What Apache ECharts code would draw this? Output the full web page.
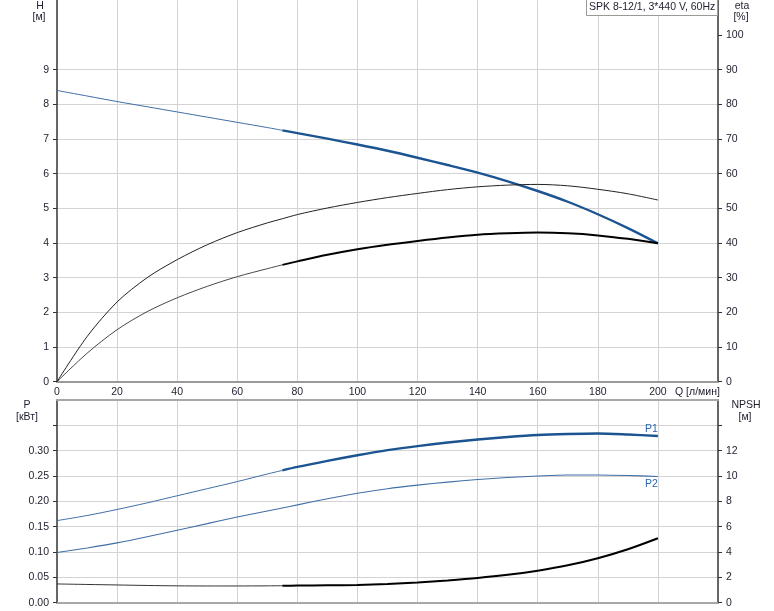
<!DOCTYPE html>
<html>
<head>
<meta charset="utf-8">
<script src="https://cdn.jsdelivr.net/npm/echarts@6/dist/echarts.min.js"></script>
<style>
html,body{margin:0;padding:0;background:#fff;}
#chart{width:774px;height:611px;}
</style>
</head>
<body>
<div id="chart"></div>
<script>
// ---- data ----
const Q = [0,10,20,30,40,50,60,70,75,80,90,100,110,120,130,140,150,160,170,180,190,200];
const H = [8.40,8.24,8.08,7.93,7.78,7.63,7.48,7.33,7.25,7.17,7.01,6.84,6.66,6.46,6.25,6.03,5.78,5.50,5.19,4.83,4.43,3.99];
const ETA_UPPER = [0,13.0,23.0,30.0,35.2,39.5,43.0,45.8,47.0,48.2,50.1,51.7,53.1,54.3,55.4,56.2,56.7,56.9,56.5,55.5,54.2,52.4];
const ETA_LOWER = [0,8.2,15.0,20.2,24.2,27.5,30.3,32.6,33.7,34.7,36.6,38.2,39.5,40.6,41.6,42.4,42.8,43.0,42.8,42.2,41.2,39.9];
const P1 = [0.162,0.172,0.184,0.197,0.211,0.225,0.239,0.254,0.261,0.268,0.280,0.291,0.301,0.309,0.316,0.322,0.327,0.331,0.333,0.334,0.332,0.329];
const P2 = [0.099,0.108,0.118,0.130,0.143,0.156,0.169,0.181,0.187,0.193,0.205,0.216,0.225,0.232,0.238,0.243,0.247,0.250,0.252,0.252,0.251,0.249];
const NPSH = [1.48,1.44,1.40,1.36,1.33,1.32,1.32,1.33,1.34,1.35,1.37,1.40,1.48,1.60,1.76,1.95,2.20,2.53,2.95,3.51,4.22,5.09];
const DUTY_START = 75;

const Q_TICKS = [0,20,40,60,80,100,120,140,160,180,200];
const H_TICKS = [0,1,2,3,4,5,6,7,8,9];
const ETA_TICKS = [0,10,20,30,40,50,60,70,80,90,100];
const P_LABELS = [0,0.05,0.10,0.15,0.20,0.25,0.30];
const P_TICKS = [0,0.05,0.10,0.15,0.20,0.25,0.30,0.35];
const NPSH_LABELS = [0,2,4,6,8,10,12];
const NPSH_TICKS = [0,2,4,6,8,10,12,14];

const TITLE = 'SPK 8-12/1, 3*440 V, 60Hz';

// ---- helpers ----
function seg(vals, from, to){
  const out = [];
  for (let i=0;i<Q.length;i++){ if (Q[i]>=from && Q[i]<=to) out.push([Q[i], vals[i]]); }
  return out;
}
const FONT = '"Liberation Sans", Arial, sans-serif';
const FS = 10.5;
const TXT = '#1e1e2e';
const BLUE = '#1b5491';
const BLUE_THIN = '#3f6fa6';
const GRIDC = '#d3d3d3';

function line(name, data, xi, yi, color, width, extra){
  return Object.assign({
    name, type:'line', data, xAxisIndex:xi, yAxisIndex:yi,
    showSymbol:false, symbol:'none', smooth:0.3, silent:true, animation:false,
    lineStyle:{color, width}, z:3
  }, extra||{});
}

const chart = echarts.init(document.getElementById('chart'), null, {renderer:'canvas'});
const labelStyle = {color:TXT, fontFamily:FONT, fontSize:FS};

chart.setOption({
  animation:false,
  backgroundColor:'#fff',
  grid:[
    {left:57, right:56, top:0.3, height:381.4, show:false},
    {left:57, right:56, top:400, height:202.7, show:false}
  ],
  xAxis:[
    {gridIndex:0, type:'value', min:0, max:220, interval:20,
     axisLine:{show:true, onZero:false, lineStyle:{color:'#9a9a9a', width:2}},
     axisTick:{show:false},
     axisLabel:Object.assign({margin:5, customValues:Q_TICKS, formatter:v=>String(v)}, labelStyle),
     splitLine:{show:true, lineStyle:{color:GRIDC, width:1}}},
    {gridIndex:1, type:'value', min:0, max:220, interval:20, position:'bottom',
     axisLine:{show:true, onZero:false, lineStyle:{color:'#a8a8a8', width:2}},
     axisTick:{show:false}, axisLabel:{show:false},
     splitLine:{show:true, lineStyle:{color:GRIDC, width:1}}},
    {gridIndex:1, type:'value', min:0, max:220, interval:20, position:'top',
     axisLine:{show:true, onZero:false, lineStyle:{color:'#a8a8a8', width:2}},
     axisTick:{show:false}, axisLabel:{show:false}, splitLine:{show:false}}
  ],
  yAxis:[
    {gridIndex:0, type:'value', min:0, max:11, interval:1, position:'left',
     axisLine:{show:true, onZero:false, lineStyle:{color:'#666', width:2}},
     axisTick:{show:true, length:4, inside:false, customValues:H_TICKS, lineStyle:{color:'#333'}},
     axisLabel:Object.assign({margin:8, customValues:H_TICKS}, labelStyle),
     splitLine:{show:true, lineStyle:{color:GRIDC, width:1}}},
    {gridIndex:0, type:'value', min:0, max:110, interval:10, position:'right',
     axisLine:{show:true, onZero:false, lineStyle:{color:'#666', width:2}},
     axisTick:{show:true, length:4, customValues:ETA_TICKS, lineStyle:{color:'#333'}},
     axisLabel:Object.assign({margin:8, customValues:ETA_TICKS}, labelStyle),
     splitLine:{show:false}},
    {gridIndex:1, type:'value', min:0, max:0.40, interval:0.05, position:'left',
     axisLine:{show:true, onZero:false, lineStyle:{color:'#666', width:2}},
     axisTick:{show:true, length:4, customValues:P_TICKS, lineStyle:{color:'#333'}},
     axisLabel:Object.assign({margin:8, customValues:P_LABELS, formatter:v=>v.toFixed(2)}, labelStyle),
     splitLine:{show:true, lineStyle:{color:GRIDC, width:1}}},
    {gridIndex:1, type:'value', min:0, max:16, interval:2, position:'right',
     axisLine:{show:true, onZero:false, lineStyle:{color:'#666', width:2}},
     axisTick:{show:true, length:4, customValues:NPSH_TICKS, lineStyle:{color:'#333'}},
     axisLabel:Object.assign({margin:8, customValues:NPSH_LABELS}, labelStyle),
     splitLine:{show:false}}
  ],
  series:[
    line('H thin', seg(H,0,DUTY_START), 0, 0, BLUE_THIN, 1),
    line('H', seg(H,DUTY_START,200), 0, 0, BLUE, 2.4),
    line('eta upper', seg(ETA_UPPER,0,200), 0, 1, '#222', 1),
    line('eta lower thin', seg(ETA_LOWER,0,DUTY_START), 0, 1, '#333', 0.9),
    line('eta lower', seg(ETA_LOWER,DUTY_START,200), 0, 1, '#000', 2),
    line('P1 thin', seg(P1,0,DUTY_START), 1, 2, BLUE_THIN, 1),
    line('P1', seg(P1,DUTY_START,200), 1, 2, BLUE, 2.4, {
      endLabel:{show:true, formatter:'P1', color:'#2a66b0', fontFamily:FONT, fontSize:FS, offset:[-21,-7]}
    }),
    line('P2', seg(P2,0,200), 1, 2, BLUE_THIN, 1.1, {
      endLabel:{show:true, formatter:'P2', color:'#2a66b0', fontFamily:FONT, fontSize:FS, offset:[-21,8]}
    }),
    line('NPSH thin', seg(NPSH,0,DUTY_START), 1, 3, '#333', 1),
    line('NPSH', seg(NPSH,DUTY_START,200), 1, 3, '#000', 2)
  ],
  graphic:[
    {type:'rect', left:586, top:-1, shape:{width:131, height:16}, style:{fill:'#fff', stroke:'#999', lineWidth:1}, z:10},
    {type:'text', left:589, top:2, style:{text:TITLE, fill:TXT, font:FS+'px '+FONT}, z:11},
    {type:'text', x:40, y:6, style:{text:'H', fill:TXT, font:FS+'px '+FONT, align:'center', verticalAlign:'middle'}},
    {type:'text', x:39, y:17, style:{text:'[м]', fill:TXT, font:FS+'px '+FONT, align:'center', verticalAlign:'middle'}},
    {type:'text', x:742, y:6, style:{text:'eta', fill:TXT, font:FS+'px '+FONT, align:'center', verticalAlign:'middle'}},
    {type:'text', x:741, y:17, style:{text:'[%]', fill:TXT, font:FS+'px '+FONT, align:'center', verticalAlign:'middle'}},
    {type:'text', x:675, y:392, style:{text:'Q [л/мин]', fill:TXT, font:FS+'px '+FONT, align:'left', verticalAlign:'middle'}},
    {type:'text', x:27, y:405, style:{text:'P', fill:TXT, font:FS+'px '+FONT, align:'center', verticalAlign:'middle'}},
    {type:'text', x:27, y:417, style:{text:'[кВт]', fill:TXT, font:FS+'px '+FONT, align:'center', verticalAlign:'middle'}},
    {type:'text', x:746, y:405, style:{text:'NPSH', fill:TXT, font:FS+'px '+FONT, align:'center', verticalAlign:'middle'}},
    {type:'text', x:745, y:417, style:{text:'[м]', fill:TXT, font:FS+'px '+FONT, align:'center', verticalAlign:'middle'}}
  ]
});
</script>
</body>
</html>
